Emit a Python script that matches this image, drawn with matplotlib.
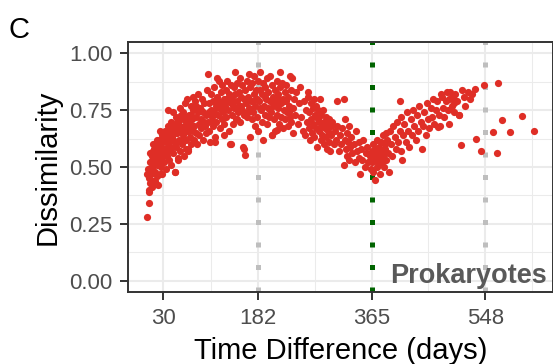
import matplotlib
matplotlib.use("Agg")
import matplotlib.pyplot as plt

plt.rcParams['font.family'] = ['Liberation Sans', 'DejaVu Sans']

# ---- data (time lag in days, dissimilarity) ----
days_early = [3, 6, 6, 9, 4, 5, 7, 8, 10, 11, 12, 13, 14, 15, 16, 17, 18, 19, 20, 21,
              22, 23, 24, 25, 26, 27, 28, 29, 30, 31, 32, 33, 34, 35, 36, 37, 38, 39, 40,
              11, 9, 14, 19, 25, 7, 16, 24]
dis_early = [0.28, 0.34, 0.40, 0.43, 0.47, 0.49, 0.45, 0.52, 0.47, 0.50, 0.55, 0.44, 0.52, 0.58,
             0.48, 0.54, 0.60, 0.51, 0.46, 0.57, 0.42, 0.62, 0.53, 0.59, 0.50, 0.47, 0.64, 0.56,
             0.61, 0.52, 0.66, 0.58, 0.49, 0.63, 0.55, 0.68, 0.60, 0.53, 0.65,
             0.41, 0.56, 0.60, 0.62, 0.66, 0.39, 0.44, 0.47]

days_rise = [41, 42, 43, 44, 45, 46, 47, 48, 49, 50, 51, 52, 53, 54, 55, 56, 57, 58, 59, 60,
             61, 62, 63, 64, 65, 66, 67, 68, 69, 70, 71, 72, 73, 74, 75, 76, 77, 78, 79, 80,
             81, 82, 83, 84, 85, 86, 87, 88, 89, 90, 91, 92, 93, 94, 95, 96, 97, 98, 99, 100,
             70, 54, 49, 38, 66, 78, 45, 58, 83, 91]
dis_rise = [0.58, 0.70, 0.51, 0.63, 0.74, 0.56, 0.67, 0.48, 0.61, 0.72,
            0.59, 0.65, 0.53, 0.69, 0.62, 0.76, 0.57, 0.66, 0.71, 0.60,
            0.64, 0.74, 0.55, 0.68, 0.78, 0.62, 0.70, 0.80, 0.58, 0.66,
            0.73, 0.63, 0.69, 0.77, 0.60, 0.71, 0.66, 0.75, 0.62, 0.68,
            0.79, 0.72, 0.65, 0.60, 0.74, 0.82, 0.69, 0.64, 0.76, 0.71,
            0.67, 0.80, 0.62, 0.74, 0.70, 0.78, 0.68, 0.65, 0.73, 0.84,
            0.57, 0.54, 0.48, 0.75, 0.58, 0.81, 0.68, 0.73, 0.77, 0.75]

# extra points filling the dense early blob
days_blob = [10, 12, 13, 15, 18, 21, 23, 26, 28, 31, 33, 35, 37, 39, 41, 43, 44, 46, 48, 50,
             52, 55, 57, 60, 62, 64, 67, 69, 72, 75]
dis_blob = [0.52, 0.49, 0.57, 0.53, 0.56, 0.52, 0.55, 0.61, 0.55, 0.58, 0.62, 0.57, 0.61, 0.66,
            0.64, 0.59, 0.67, 0.62, 0.65, 0.61, 0.70, 0.66, 0.68, 0.67, 0.62, 0.72, 0.66, 0.70,
            0.67, 0.73]

days_peak = [101, 102, 103, 104, 105, 106, 107, 108, 109, 110, 111, 112, 113, 114, 115, 116,
             117, 118, 119, 120, 121, 122, 123, 124, 125, 126, 127, 128, 129, 130, 131, 132,
             133, 134, 135, 136, 137, 138, 139, 140, 141, 142, 143, 144, 145, 146, 147, 148,
             149, 150, 151, 152, 153, 154, 155, 156, 157, 158, 159, 160, 161, 162, 163, 164,
             165, 166, 167, 168, 169, 170, 171, 172, 173, 174, 175, 176, 177, 178, 179, 180,
             139, 160, 113, 128, 104, 110, 118, 124, 131, 142, 149, 155, 166, 174]
dis_peak = [0.91, 0.70, 0.78, 0.66, 0.61, 0.75, 0.82, 0.72, 0.68, 0.79,
            0.85, 0.74, 0.63, 0.77, 0.70, 0.89, 0.81, 0.73, 0.88, 0.76,
            0.67, 0.83, 0.78, 0.71, 0.86, 0.74, 0.80, 0.69, 0.77, 0.84,
            0.72, 0.79, 0.88, 0.75, 0.66, 0.82, 0.60, 0.78, 0.86, 0.73,
            0.80, 0.69, 0.85, 0.76, 0.92, 0.82, 0.71, 0.79, 0.87, 0.74,
            0.83, 0.77, 0.89, 0.70, 0.81, 0.75, 0.86, 0.59, 0.80, 0.73,
            0.84, 0.555, 0.78, 0.88, 0.72, 0.81, 0.91, 0.76, 0.85, 0.63,
            0.79, 0.71, 0.87, 0.74, 0.82, 0.90, 0.77, 0.68, 0.84, 0.80,
            0.60, 0.58, 0.61, 0.64, 0.74, 0.70, 0.79, 0.75, 0.80, 0.77,
            0.71, 0.77, 0.74, 0.79]

days_top = [181, 182, 183, 184, 185, 186, 187, 188, 189, 190, 191, 192, 193, 194, 195, 196,
            197, 198, 199, 200, 201, 202, 203, 204, 205, 206, 207, 208, 209, 210, 211, 212,
            213, 214, 215, 216, 217, 218, 219, 220, 221, 222, 223, 224, 225, 226, 227, 228,
            229, 230, 231, 232, 233, 234, 235, 236, 237, 238, 239, 240,
            242, 244, 246, 248, 250, 252, 254, 256, 258, 260, 213, 205,
            185, 193, 201, 209, 216, 224, 232]
dis_top = [0.72, 0.88, 0.66, 0.79, 0.84, 0.92, 0.75, 0.70, 0.82, 0.87,
           0.62, 0.77, 0.73, 0.85, 0.80, 0.69, 0.89, 0.76, 0.83, 0.72,
           0.79, 0.90, 0.74, 0.86, 0.64, 0.81, 0.77, 0.71, 0.84, 0.66,
           0.79, 0.88, 0.73, 0.82, 0.76, 0.69, 0.85, 0.92, 0.78, 0.72,
           0.87, 0.80, 0.67, 0.75, 0.83, 0.71, 0.79, 0.86, 0.74, 0.68,
           0.81, 0.77, 0.72, 0.90, 0.84, 0.70, 0.89, 0.76, 0.65, 0.80,
           0.73, 0.83, 0.69, 0.78, 0.85, 0.72, 0.66, 0.79, 0.64, 0.75, 0.665, 0.643,
           0.76, 0.81, 0.75, 0.78, 0.80, 0.79, 0.74]

days_fall = [261, 262, 263, 264, 265, 266, 267, 268, 269, 270, 271, 272, 273, 274, 275, 276,
             277, 278, 279, 280, 281, 282, 283, 284, 285, 286, 287, 288, 289, 290, 291, 292,
             293, 294, 295, 296, 297, 298, 299, 300,
             302, 304, 306, 308, 309, 310, 312, 314, 316, 318, 320, 321, 322, 323, 324, 325,
             326, 327, 328, 329, 330, 332, 334, 336, 338, 340, 342, 344, 345, 347, 348, 350,
             352, 354, 356, 358, 360, 362, 364, 365]
dis_fall = [0.70, 0.81, 0.83, 0.67, 0.74, 0.62, 0.78, 0.71, 0.65, 0.76,
            0.69, 0.80, 0.63, 0.73, 0.67, 0.77, 0.59, 0.71, 0.75, 0.66,
            0.70, 0.80, 0.62, 0.73, 0.68, 0.64, 0.75, 0.70, 0.60, 0.67,
            0.72, 0.63, 0.69, 0.58, 0.66, 0.71, 0.61, 0.57, 0.68, 0.64,
            0.70, 0.60, 0.66, 0.62, 0.79, 0.68, 0.57, 0.64, 0.60, 0.67, 0.51, 0.80, 0.71, 0.62,
            0.58, 0.65, 0.55, 0.61, 0.68, 0.53, 0.59, 0.63, 0.56, 0.60, 0.52, 0.66, 0.57, 0.54,
            0.61, 0.47, 0.58, 0.53, 0.62, 0.50, 0.56, 0.59, 0.52, 0.55, 0.49, 0.57]

days_recover = [366, 367, 368, 369, 370, 371, 372, 373, 374, 375, 376, 377, 378, 379, 380,
                381, 382, 383, 384, 385, 386, 387, 388, 389, 390, 392, 393, 394, 396, 398,
                400, 402, 404, 406, 408, 410, 411, 412, 413, 414, 416, 418, 420, 422, 424,
                426, 428, 430, 432, 434, 436, 438, 440, 442, 444, 446, 448, 450, 452, 454,
                456, 458, 460, 462, 464, 466, 468, 470, 472, 474, 475, 476, 478, 480, 482,
                484, 486, 488, 489, 490, 492, 494, 496, 497, 498, 500]
dis_recover = [0.52, 0.60, 0.48, 0.55, 0.58, 0.445, 0.53, 0.50, 0.62, 0.56, 0.51, 0.59, 0.54,
               0.47, 0.61, 0.57, 0.52, 0.64, 0.55, 0.50, 0.60, 0.58, 0.65, 0.53, 0.62, 0.56,
               0.48, 0.66, 0.60, 0.55, 0.68, 0.63, 0.58, 0.70, 0.61, 0.66, 0.79, 0.57, 0.72,
               0.53, 0.64, 0.69, 0.61, 0.74, 0.66, 0.59, 0.71, 0.64, 0.75, 0.68, 0.62, 0.73,
               0.66, 0.77, 0.70, 0.58, 0.68, 0.74, 0.64, 0.78, 0.71, 0.67, 0.76, 0.72, 0.80,
               0.69, 0.75, 0.79, 0.675, 0.73, 0.68, 0.82, 0.81, 0.76, 0.72, 0.79, 0.83, 0.75,
               0.69, 0.80, 0.83, 0.77, 0.81, 0.78, 0.74, 0.82]

days_tail = [503, 505, 506, 509, 510, 513, 516, 520, 524, 527, 532, 533, 541, 546, 560, 567,
             568, 575, 588, 607, 626]
dis_tail = [0.79, 0.73, 0.73, 0.595, 0.84, 0.81, 0.77, 0.83, 0.80, 0.82, 0.845, 0.624, 0.57,
            0.86, 0.655, 0.562, 0.868, 0.705, 0.653, 0.723, 0.66]

x_breaks = [30, 182, 365, 548]
y_breaks = [0.00, 0.25, 0.50, 0.75, 1.00]
year_marks = [182, 365, 548]
year_colors = ['#BEBEBE', '#006400', '#BEBEBE']

days = (days_early + days_rise + days_blob + days_peak + days_top + days_fall
        + days_recover + days_tail)
dis = (dis_early + dis_rise + dis_blob + dis_peak + dis_top + dis_fall
       + dis_recover + dis_tail)

fig = plt.figure(figsize=(5.53, 3.64), dpi=100)
ax = fig.add_axes([128 / 553, 1 - 292 / 364, 425 / 553, 250 / 364])

# ggplot-like grid (minor breaks halfway between the breaks)
ax.set_xticks(x_breaks)
ax.set_xticks([106, 273.5, 456.5, 624], minor=True)
ax.set_yticks(y_breaks)
ax.set_yticks([0.125, 0.375, 0.625, 0.875], minor=True)
ax.set_yticklabels(['%.2f' % v for v in y_breaks])
ax.set_xlim(-27, 657)
ax.set_ylim(-0.05, 1.05)
ax.grid(True, which='major', color='#EBEBEB', lw=1.5)
ax.grid(True, which='minor', color='#EBEBEB', lw=0.75)
ax.set_axisbelow(True)
ax.tick_params(which='minor', length=0)
ax.tick_params(which='major', length=6, width=1.4, color='#333333',
               labelsize=16, labelcolor='#4D4D4D')
ax.tick_params(axis='x', pad=5.4)
ax.tick_params(axis='y', pad=5)

for s in ax.spines.values():
    s.set_color('#333333')
    s.set_linewidth(1.4)

for xm, c in zip(year_marks, year_colors):
    ax.axvline(xm, color=c, lw=3.6, linestyle=(0, (1, 3.5)),
               dash_capstyle='butt', zorder=1)

ax.scatter(days, dis, s=27, color='#DF2E26', linewidths=0, zorder=2)

ax.text(0.985, 0.035, 'Prokaryotes', transform=ax.transAxes, ha='right', va='baseline',
        fontsize=19.5, fontweight='bold', color='#595959', zorder=5)

ax.set_xlabel('Time Difference (days)', fontsize=21, labelpad=6)
ax.set_ylabel('Dissimilarity', fontsize=21, labelpad=5.5)

fig.text(8 / 553, 1 - 38 / 364, 'C', fontsize=21, va='baseline', ha='left')

fig.savefig('out.png', dpi=100)
